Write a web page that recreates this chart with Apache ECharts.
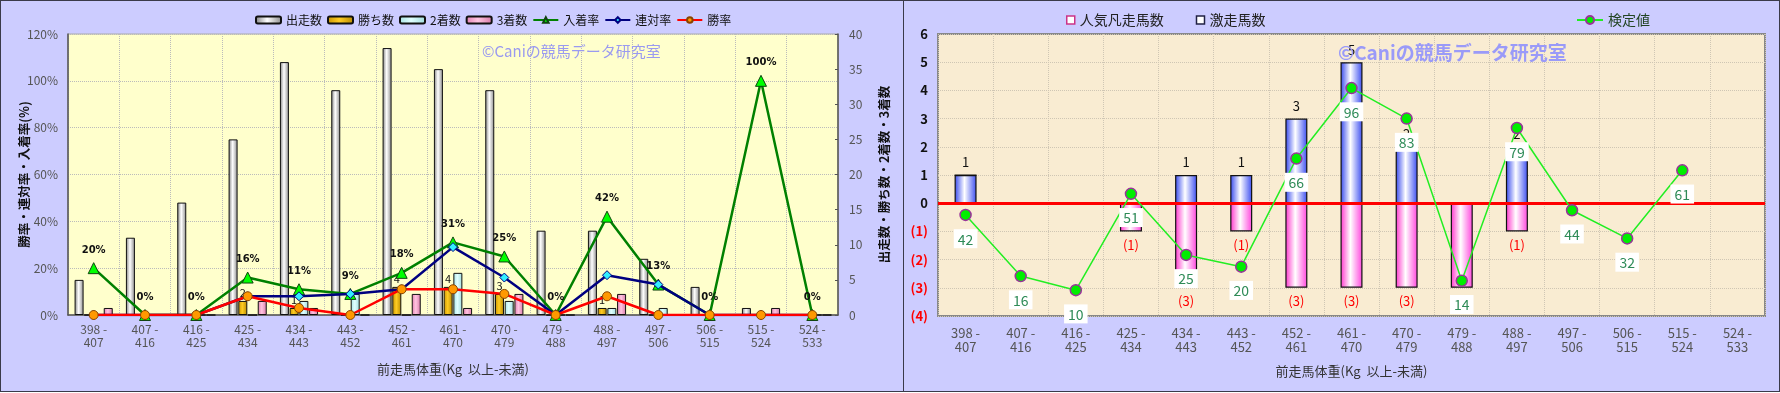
<!DOCTYPE html>
<html><head><meta charset="utf-8">
<script src="https://cdn.jsdelivr.net/npm/echarts@6/dist/echarts.min.js"></script>
<style>
html,body{margin:0;padding:0;background:#fff;}
#wrap{position:relative;width:1780px;height:393px;overflow:hidden;}
.box{position:absolute;top:0;height:392px;background:#ccccff;box-sizing:border-box;border:1.5px solid #3a3a4a;}
#b1{left:0;width:904px;}
#b2{left:903px;width:877px;}
#c1{position:absolute;left:0;top:0;width:904px;height:393px;}
#c2{position:absolute;left:903px;top:0;width:877px;height:393px;}
</style></head>
<body>
<div id="wrap">
  <div class="box" id="b1"></div>
  <div class="box" id="b2"></div>
  <div id="c1"></div>
  <div id="c2"></div>
</div>
<script>
// ---------- data ----------
const weightBins = ['398 - 407','407 - 416','416 - 425','425 - 434','434 - 443','443 - 452','452 - 461','461 - 470','470 - 479','479 - 488','488 - 497','497 - 506','506 - 515','515 - 524','524 - 533'];
// left chart (counts, right axis)
const runners = [5,11,16,25,36,32,38,35,32,12,12,8,4,1,0];
const wins    = [0,0,0,2,1,0,4,4,3,0,1,0,0,0,0];
const seconds = [0,0,0,0,2,3,0,6,2,0,1,1,0,0,0];
const thirds  = [1,0,0,2,1,0,3,1,3,0,3,0,0,1,0];
// left chart (rates %, left axis)
const placeRate    = [20,0,0,16,11,9,18,31,25,0,42,13,0,100,0];
const quinellaRate = [0,0,0,8,8,9,11,29,16,0,17,13,0,0,0];
const winRate      = [0,0,0,8,3,0,11,11,9,0,8,0,0,0,0];
// right chart
const gekisouCount = [1,0,0,0,1,1,3,5,2,0,2,0,0,0,0];
const ninkiBonsouCount = [0,0,0,-1,-3,-1,-3,-3,-3,-3,-1,0,0,0,0];
const kenteiValue = [42,16,10,51,25,20,66,96,83,14,79,44,32,61,null];
const leftRateTicks = [0,20,40,60,80,100,120];
const rightCountTicks = [0,5,10,15,20,25,30,35,40];
const diffTicks = [-4,-3,-2,-1,0,1,2,3,4,5,6];

const FONT = '"Noto Sans CJK JP", "Noto Sans", sans-serif';
const catLabel = s => s.replace(' - ', ' -\n');
const hGrad = (a, b, c) => ({type:'linear',x:0,y:0,x2:1,y2:0,colorStops:[{offset:0,color:a},{offset:0.45,color:b},{offset:1,color:c}]});

// ---------- left chart ----------
const ch1 = echarts.init(document.getElementById('c1'), null, {renderer:'canvas'});
const barBase = {type:'bar', yAxisIndex:1, barWidth:9, barGap:'8%', barCategoryGap:'26%'};
ch1.setOption({
  backgroundColor:'transparent',
  textStyle:{fontFamily:FONT},
  animation:false,
  legend:{
    left:250, top:9, itemWidth:25, itemHeight:7, itemGap:5,
    textStyle:{fontFamily:FONT, fontSize:12, color:'#111'},
    data:['出走数','勝ち数','2着数','3着数','入着率','連対率','勝率']
  },
  grid:{left:68, top:34, right:66, bottom:78, show:true, backgroundColor:'#ffffcc', borderColor:'#aaa', borderWidth:1},
  xAxis:{
    type:'category', data:weightBins,
    axisLine:{lineStyle:{color:'#555', width:1.5}},
    axisTick:{show:false},
    axisLabel:{formatter:catLabel, color:'#555', fontSize:12, lineHeight:13, margin:8, fontFamily:FONT},
    splitLine:{show:true, interval:0, lineStyle:{color:'#bbb', type:'dotted'}},
    name:'前走馬体重(Kg  以上-未満)', nameLocation:'middle', nameGap:48,
    nameTextStyle:{color:'#333', fontSize:13, fontFamily:FONT}
  },
  yAxis:[
    {type:'value', min:leftRateTicks[0], max:leftRateTicks[leftRateTicks.length-1], interval:20,
     axisLine:{show:true, lineStyle:{color:'#555', width:1.5}}, axisTick:{show:false},
     axisLabel:{formatter:'{value}%', color:'#555', fontSize:12, margin:10, fontFamily:FONT},
     splitLine:{show:true, lineStyle:{color:'#bbb', type:'dotted'}},
     name:'勝率・連対率・入着率(%)', nameLocation:'middle', nameGap:37, nameRotate:90, nameMoveOverlap:false,
     nameTextStyle:{color:'#111', fontSize:12.5, fontWeight:'bold', fontFamily:FONT}},
    {type:'value', min:rightCountTicks[0], max:rightCountTicks[rightCountTicks.length-1], interval:5, position:'right',
     axisLine:{show:true, lineStyle:{color:'#555', width:1.5}}, axisTick:{show:true, inside:true, length:3, lineStyle:{color:'#555'}},
     axisLabel:{color:'#555', fontSize:12, margin:11, fontFamily:FONT},
     splitLine:{show:false},
     name:'出走数・勝ち数・2着数・3着数', nameLocation:'middle', nameGap:40, nameRotate:90, nameMoveOverlap:false,
     nameTextStyle:{color:'#111', fontSize:12.5, fontWeight:'bold', fontFamily:FONT}}
  ],
  graphic:[{type:'text', left:482, top:44, z:100, style:{text:'©Caniの競馬データ研究室', fill:'#9a9af0', font:'15px '+FONT}}],
  series:[
    Object.assign({}, barBase, {name:'出走数', data:runners,
      itemStyle:{color:hGrad('#808080','#ffffff','#8a8a8a'), borderColor:'#111', borderWidth:1}}),
    Object.assign({}, barBase, {name:'勝ち数', data:wins,
      itemStyle:{color:hGrad('#c89400','#ffcc22','#b88a00'), borderColor:'#111', borderWidth:1},
      label:{show:true, position:'top', distance:3, color:'#111', fontSize:11, fontFamily:FONT, formatter:p => p.value ? String(p.value) : ''}}),
    Object.assign({}, barBase, {name:'2着数', data:seconds,
      itemStyle:{color:hGrad('#a8e4e4','#e0ffff','#a0dcdc'), borderColor:'#111', borderWidth:1}}),
    Object.assign({}, barBase, {name:'3着数', data:thirds,
      itemStyle:{color:hGrad('#e27fb0','#ffc4e0','#d878a8'), borderColor:'#111', borderWidth:1}}),
    {name:'入着率', type:'line', yAxisIndex:0, data:placeRate, z:5,
     symbol:'triangle', symbolSize:11,
     lineStyle:{color:'#008000', width:2.5}, itemStyle:{color:'#00ff00', borderColor:'#114411', borderWidth:1},
     label:{show:true, position:'top', distance:7, formatter:'{c}%', fontSize:10, fontWeight:'bold', color:'#111', fontFamily:'"DejaVu Sans", sans-serif'}},
    {name:'連対率', type:'line', yAxisIndex:0, data:quinellaRate, z:6,
     symbol:'diamond', symbolSize:9,
     lineStyle:{color:'#000080', width:2.5}, itemStyle:{color:'#33eeff', borderColor:'#000080', borderWidth:1}},
    {name:'勝率', type:'line', yAxisIndex:0, data:winRate, z:7,
     symbol:'circle', symbolSize:9,
     lineStyle:{color:'#ff0000', width:2.5}, itemStyle:{color:'#ff9900', borderColor:'#884400', borderWidth:1}}
  ]
});

// ---------- right chart ----------
const ch2 = echarts.init(document.getElementById('c2'), null, {renderer:'canvas'});
ch2.setOption({
  backgroundColor:'transparent',
  textStyle:{fontFamily:FONT},
  animation:false,
  legend:[
    {left:158, top:8, itemWidth:8, itemHeight:8, itemGap:32,
     textStyle:{fontFamily:FONT, fontSize:14, color:'#222'},
     data:[{name:'人気凡走馬数', icon:'rect', itemStyle:{color:'#ffffff', borderColor:'#cc3388', borderWidth:1.5}},
           {name:'激走馬数', icon:'rect', itemStyle:{color:'#ffffff', borderColor:'#222244', borderWidth:1.5}}]},
    {left:668, top:8, itemWidth:26, itemHeight:10,
     textStyle:{fontFamily:FONT, fontSize:14, color:'#224422'},
     data:['検定値']}
  ],
  grid:{left:35, top:34, right:15, bottom:77, show:true, backgroundColor:'#f9ecd2', borderColor:'#888', borderWidth:2},
  xAxis:{
    type:'category', data:weightBins,
    axisLine:{show:false},
    axisTick:{show:false},
    axisLabel:{formatter:catLabel, color:'#555', fontSize:13, lineHeight:14, margin:10, fontFamily:FONT},
    splitLine:{show:true, interval:0, lineStyle:{color:'#cfc6b4', type:'dotted'}},
    name:'前走馬体重(Kg  以上-未満)', nameLocation:'middle', nameGap:49,
    nameTextStyle:{color:'#333', fontSize:13, fontFamily:FONT}
  },
  yAxis:[
    {type:'value', min:diffTicks[0], max:diffTicks[diffTicks.length-1], interval:1,
     axisLine:{show:false}, axisTick:{show:false},
     axisLabel:{margin:10, fontSize:13, fontWeight:'bold', fontFamily:FONT,
       formatter:v => v < 0 ? '(' + (-v) + ')' : String(v),
       color:v => (v < 0 ? '#ff0000' : '#111')},
     splitLine:{show:true, lineStyle:{color:'#cfc6b4', type:'dotted'}}},
    {type:'value', min:-1, max:119, show:false, splitLine:{show:false}}
  ],
  graphic:[{type:'text', left:435, top:43, z:100, style:{text:'©Caniの競馬データ研究室', fill:'#9a9af8', font:'bold 19px '+FONT}}],
  series:[
    {name:'激走馬数', type:'bar', data:gekisouCount, stack:'s', barWidth:22,
     itemStyle:{color:hGrad('#3346ee','#ffffff','#3a4cf0'), borderColor:'#111', borderWidth:1.2},
     label:{show:true, position:'top', distance:6, color:'#111', fontSize:13, fontFamily:FONT, formatter:p => p.value ? String(p.value) : ''},
     markLine:{silent:true, symbol:'none', label:{show:false}, lineStyle:{color:'#ff0000', width:3, type:'solid'}, data:[{yAxis:0}]}},
    {name:'人気凡走馬数', type:'bar', data:ninkiBonsouCount, stack:'s', barWidth:22,
     itemStyle:{color:hGrad('#ff33cc','#ffffff','#ff44dd'), borderColor:'#111', borderWidth:1.2},
     label:{show:true, position:'bottom', distance:7, color:'#ff0000', fontSize:13, fontFamily:FONT, formatter:p => p.value ? '(' + (-p.value) + ')' : ''}},
    {name:'検定値', type:'line', yAxisIndex:1, data:kenteiValue, z:10,
     symbol:'circle', symbolSize:11,
     lineStyle:{color:'#22ee22', width:1.5}, itemStyle:{color:'#00ee00', borderColor:'#993399', borderWidth:1.5},
     label:{show:true, position:'bottom', distance:8, color:'#2e8b57', fontSize:14, fontFamily:FONT,
       backgroundColor:'#ffffff', padding:[3,4,2,4]}}
  ]
});
</script>
</body></html>
